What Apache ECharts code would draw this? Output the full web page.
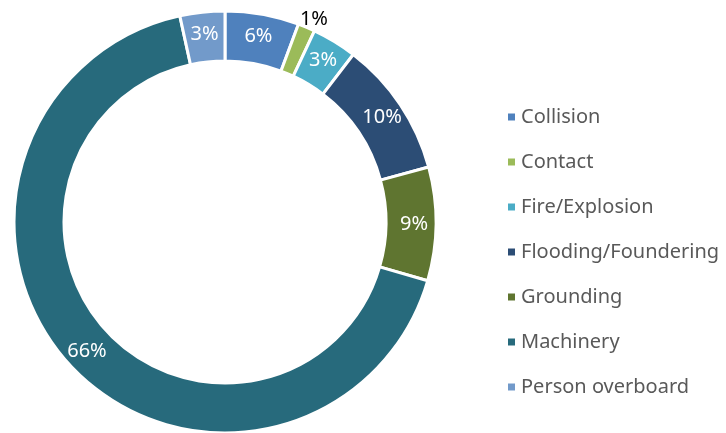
<!DOCTYPE html>
<html>
<head>
<meta charset="utf-8">
<script src="https://cdn.jsdelivr.net/npm/echarts@6/dist/echarts.min.js"></script>
<style>html,body{margin:0;padding:0;background:#fff}#c{width:726px;height:433px}</style>
</head>
<body>
<div id="c"></div>
<script>
var categories = ['Collision', 'Contact', 'Fire/Explosion', 'Flooding/Foundering', 'Grounding', 'Machinery', 'Person overboard'];
var values = [5.6, 1.3, 3.4, 10.3, 8.6, 66.4, 3.4];
var colors = ['#4F81BD', '#9BBB59', '#4BACC6', '#2C4D75', '#5F7530', '#276A7C', '#729ACA'];

var chart = echarts.init(document.getElementById('c'), null, {renderer: 'canvas'});
var data = categories.map(function (n, i) {
  var d = {name: n, value: values[i], itemStyle: {color: colors[i]}};
  if (n === 'Contact') {
    d.label = {position: 'outside', color: '#000', distanceToLabelLine: 0, offset: [-7, -7]};
    d.labelLine = {show: false, length: 1, length2: 0};
  }
  return d;
});
chart.setOption({
  animation: false,
  legend: {
    orient: 'vertical',
    left: 501,
    top: 101,
    itemWidth: 9,
    itemHeight: 9,
    itemGap: 23,
    icon: 'rect',
    textStyle: {color: '#595959', fontSize: 20, fontFamily: 'Noto Sans', lineHeight: 22, padding: [0, 0, 0, 0]},
    data: categories
  },
  series: [{
    type: 'pie',
    center: [225, 222],
    radius: [161, 211],
    startAngle: 90,
    clockwise: true,
    avoidLabelOverlap: false,
    itemStyle: {borderColor: '#fff', borderWidth: 3},
    label: {
      position: 'inside',
      color: '#fff',
      fontSize: 20,
      fontFamily: 'Noto Sans',
      formatter: function (p) { return Math.round(p.value) + '%'; }
    },
    labelLine: {show: false},
    data: data
  }]
});
</script>
</body>
</html>
